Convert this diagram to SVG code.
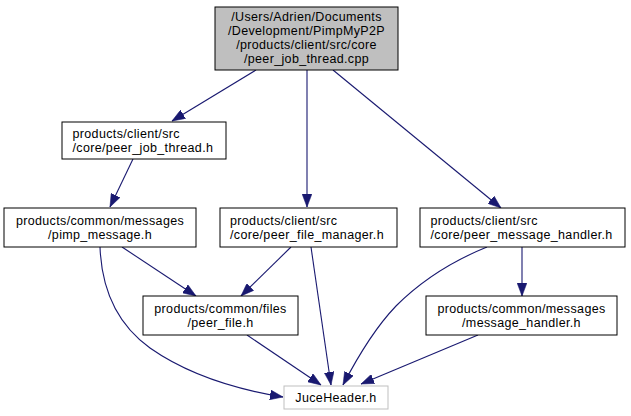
<svg xmlns="http://www.w3.org/2000/svg" width="631" height="416" viewBox="0 0 631 416">
<style>
text{font-family:"Liberation Sans",Arial,Helvetica,sans-serif;font-size:12.5px;letter-spacing:0.35px;fill:#000}
.c{text-anchor:middle}
.n rect{fill:#fff;stroke:#000;stroke-width:1}
#n0 rect{fill:#bfbfbf}
#n8 rect{stroke:#bfbfbf}
.e path{fill:none;stroke:#191970;stroke-width:1.1;marker-end:url(#a)}
</style>
<defs>
<marker id="a" markerUnits="userSpaceOnUse" markerWidth="13" markerHeight="10" viewBox="0 0 12 9" refX="12" refY="4.5" orient="auto">
<path d="M0,0 L12,4.5 L0,9 z" fill="#191970" stroke="#191970" stroke-width="0.5"/>
</marker>
</defs>
<rect width="631" height="416" fill="#fff"/>
<g id="edges" class="e">
<path d="M256,70 L172,121"/>
<path d="M307,70 L307,207"/>
<path d="M333,70 L501,208"/>
<path d="M133,159 L110,207"/>
<path d="M122,247 L196,296"/>
<path d="M100,247 C102,300 125,330 150,348 C190,376 240,390 283,397"/>
<path d="M291,247 L241,296"/>
<path d="M311,247 L331,385"/>
<path d="M487,247 C450,262 418,284 396,306 C373,330 356,360 343,385"/>
<path d="M522,247 L522,296"/>
<path d="M247,335 L321,385"/>
<path d="M478,335 L361,384"/>
</g>
<g id="n0" class="n">
<rect x="215" y="7" width="183" height="63"/>
<text class="c" x="306.5" y="20.5">/Users/Adrien/Documents</text>
<text class="c" x="306.5" y="34.5">/Development/PimpMyP2P</text>
<text class="c" x="306.5" y="48.5">/products/client/src/core</text>
<text class="c" x="306.5" y="62.5">/peer_job_thread.cpp</text>
</g>
<g id="n1" class="n">
<rect x="62" y="122" width="164" height="37"/>
<text x="72.5" y="137.75">products/client/src</text>
<text x="72.5" y="151.75">/core/peer_job_thread.h</text>
</g>
<g id="n2" class="n">
<rect x="4" y="208" width="192" height="39"/>
<text class="c" x="100" y="224.75">products/common/messages</text>
<text class="c" x="100" y="238.75">/pimp_message.h</text>
</g>
<g id="n3" class="n">
<rect x="220" y="208" width="177" height="39"/>
<text x="230" y="224.75">products/client/src</text>
<text x="230" y="238.75">/core/peer_file_manager.h</text>
</g>
<g id="n4" class="n">
<rect x="420" y="208" width="205" height="39"/>
<text x="430.5" y="224.75">products/client/src</text>
<text x="430.5" y="238.75">/core/peer_message_handler.h</text>
</g>
<g id="n5" class="n">
<rect x="143" y="296" width="155" height="39"/>
<text class="c" x="220.5" y="312.75">products/common/files</text>
<text class="c" x="220.5" y="326.75">/peer_file.h</text>
</g>
<g id="n6" class="n">
<rect x="426" y="296" width="191" height="39"/>
<text class="c" x="521.5" y="312.75">products/common/messages</text>
<text class="c" x="521.5" y="326.75">/message_handler.h</text>
</g>
<g id="n8" class="n">
<rect x="284" y="386" width="104" height="23"/>
<text class="c" x="336" y="402">JuceHeader.h</text>
</g>
</svg>
